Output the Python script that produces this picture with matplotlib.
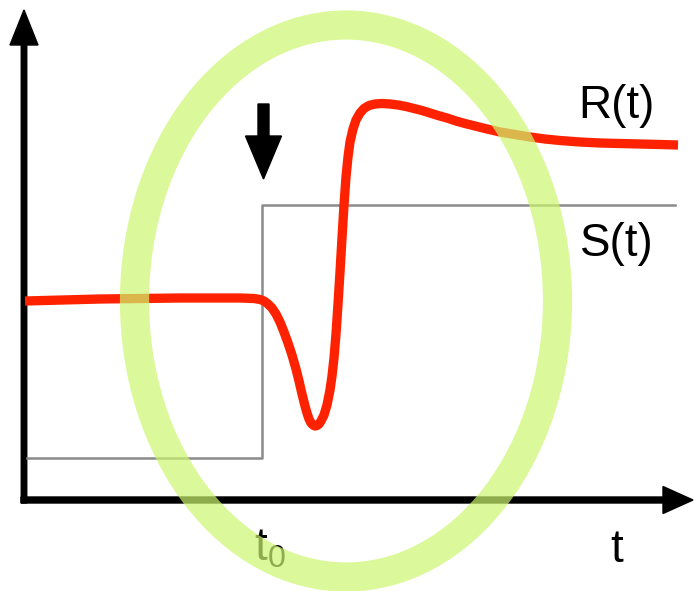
import matplotlib.pyplot as plt
from matplotlib.patches import Ellipse

plt.rcParams['font.family'] = ['Liberation Sans', 'DejaVu Sans']
plt.rcParams['mathtext.fontset'] = 'custom'
plt.rcParams['mathtext.rm'] = 'Liberation Sans'

# Time of the step
t0 = 238

# Stimulus S(t): a step at t0
s_time = [3, t0, t0, 651]
s_level = [42, 42, 295, 295]

# Response R(t): dip after the step, overshoot, then settling
r_time = [1, 76, 156, 216, 230, 236, 240, 244, 248, 252, 256, 260, 264, 268,
          272, 275, 278, 281, 283, 285, 287, 289, 291, 293, 295, 297, 300,
          303, 306, 308, 310, 312, 314, 316, 318, 320, 322, 324, 326, 329,
          332, 336, 340, 345, 351, 358, 366, 374, 382, 390, 398, 406, 414,
          423, 432, 441, 451, 461, 476, 491, 506, 521, 536, 556, 576, 596,
          616, 636, 654]
r_level = [199, 201, 202, 202, 201.5, 200.5, 199, 196, 192, 186, 178, 168,
           157, 145, 131, 119, 106, 94, 87, 81, 77, 75, 74, 74.5, 76, 79, 85,
           95, 110, 124, 142, 166, 196, 228, 262, 295, 323, 343, 358, 371,
           380, 387, 391.5, 394.5, 396, 396.5, 396, 395, 393.5, 391.5, 389.5,
           387, 384.5, 382, 379, 376.5, 374, 371.5, 368, 365.5, 363, 361,
           359.5, 358, 357, 356.5, 356, 355.5, 355]

fig = plt.figure(figsize=(6.95, 5.91), dpi=100)
ax = fig.add_axes([0, 0, 1, 1])
ax.set_xlim(-24, 671)
ax.set_ylim(-91, 500)
ax.axis('off')

# axes with arrow heads
ax.arrow(0, -3, 0, 493, width=5.5, head_width=28, head_length=35,
         length_includes_head=True, color='black', zorder=2)
ax.arrow(-3, 0, 672, 0, width=6, head_width=27, head_length=30,
         length_includes_head=True, color='black', zorder=2)

ax.plot(s_time, s_level, color='#8a8a8a', lw=1.8, zorder=3)
ax.plot(r_time, r_level, color='#ff2200', lw=6.7, solid_capstyle='butt',
        solid_joinstyle='round', zorder=4)

# arrow marking the moment of the step
ax.arrow(t0 + 1.5, 396, 0, -75, width=11, head_width=36, head_length=43,
         length_includes_head=True, color='black', zorder=4)

ax.text(554, 382, 'R(t)', fontsize=33, va='baseline', ha='left', zorder=5)
ax.text(556, 244, 'S(t)', fontsize=33, va='baseline', ha='left', zorder=5)
ax.text(586, -62, 't', fontsize=33, va='baseline', ha='left', zorder=5)
ax.text(t0 - 8, -60, r'$\mathregular{t_0}$', fontsize=33, va='baseline',
        ha='left', zorder=5)

# highlight ring around the transient
ring = Ellipse((322, 199), 423, 552, fill=False, lw=21,
               edgecolor=(205/255, 246/255, 111/255), alpha=0.7, zorder=6)
ax.add_patch(ring)

fig.savefig('out.png', dpi=100)
